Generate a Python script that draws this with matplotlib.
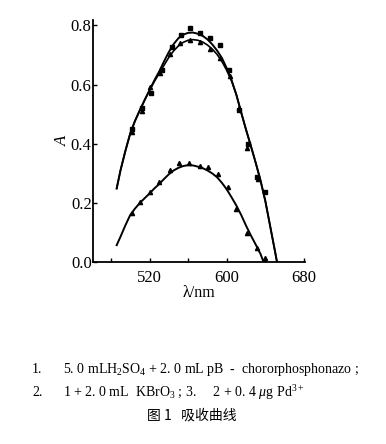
import matplotlib
matplotlib.use("Agg")
import matplotlib.pyplot as plt

plt.rcParams['font.family'] = ['Liberation Serif', 'Noto Sans CJK SC', 'DejaVu Sans']
plt.rcParams['mathtext.fontset'] = 'custom'
plt.rcParams['mathtext.rm'] = 'Liberation Serif'
plt.rcParams['mathtext.it'] = 'Liberation Serif:italic'

# fitted curves (wavelength nm, absorbance)
line_x = [486, 490, 495, 500, 505, 510, 515, 520, 525, 530, 535, 540, 545, 550, 555, 560,
          565, 570, 575, 580, 585, 590, 595, 600, 605, 610, 615, 620, 625, 630, 635, 640,
          645, 650, 652]
line1_y = [0.248, 0.31, 0.375, 0.434, 0.477, 0.513, 0.548, 0.581, 0.614, 0.644, 0.678, 0.710,
           0.737, 0.757, 0.769, 0.775, 0.776, 0.772, 0.765, 0.753, 0.736, 0.715, 0.690, 0.655,
           0.615, 0.565, 0.505, 0.447, 0.392, 0.335, 0.275, 0.205, 0.12, 0.035, 0.0]
line2_y = [0.248, 0.31, 0.375, 0.434, 0.477, 0.513, 0.547, 0.580, 0.610, 0.638, 0.665, 0.692,
           0.714, 0.731, 0.743, 0.750, 0.752, 0.750, 0.744, 0.734, 0.720, 0.702, 0.678, 0.648,
           0.612, 0.565, 0.505, 0.447, 0.392, 0.335, 0.275, 0.205, 0.12, 0.035, 0.0]
line3_x = [486, 490, 495, 500, 505, 510, 515, 520, 525, 530, 535, 540, 545, 550, 555, 560,
           565, 570, 575, 580, 585, 590, 595, 600, 605, 610, 615, 620, 625, 630, 635, 638]
line3_y = [0.056, 0.085, 0.123, 0.158, 0.180, 0.199, 0.215, 0.231, 0.248, 0.263, 0.280, 0.296,
           0.309, 0.318, 0.324, 0.327, 0.326, 0.322, 0.317, 0.309, 0.299, 0.286, 0.267, 0.245,
           0.218, 0.190, 0.158, 0.122, 0.089, 0.058, 0.026, 0.0]

# measured points
pts1_x = [502, 512, 522, 533, 543, 552.5, 562, 572, 583, 593, 602, 613, 622, 631, 640]
pts1_y = [0.451, 0.519, 0.572, 0.649, 0.727, 0.767, 0.790, 0.775, 0.756, 0.733, 0.648, 0.513, 0.400, 0.288, 0.237]
pts2_x = [502, 512, 520, 531, 541, 552, 562, 572, 583, 593, 603, 613, 621, 632]
pts2_y = [0.440, 0.510, 0.590, 0.640, 0.705, 0.740, 0.752, 0.745, 0.720, 0.690, 0.630, 0.520, 0.384, 0.280]
pts3_x = [502, 510, 520, 530, 541, 551, 561, 572, 581, 591, 601, 610, 621, 631, 640]
pts3_y = [0.166, 0.203, 0.237, 0.271, 0.310, 0.335, 0.335, 0.324, 0.321, 0.297, 0.254, 0.180, 0.098, 0.047, 0.011]

x_ticks = [480, 520, 560, 600, 640, 680]
x_labels = ['', '520', '', '600', '', '680']
y_ticks = [0.0, 0.2, 0.4, 0.6, 0.8]

fig = plt.figure(figsize=(3.86, 4.44), dpi=100)
ax = fig.add_axes([0.241, 0.4106, 0.549, 0.544])

ax.plot(line_x, line1_y, color='black', lw=1.4)
ax.plot(line_x, line2_y, color='black', lw=1.2)
ax.plot(line3_x, line3_y, color='black', lw=1.4)
ax.plot(pts1_x, pts1_y, 's', color='black', ms=3)
ax.plot(pts2_x, pts2_y, '^', color='black', ms=3)
ax.plot(pts3_x, pts3_y, '^', color='black', ms=3)

ax.set_xlim(461.5, 681)
ax.set_ylim(0, 0.818)
ax.set_xticks(x_ticks)
ax.set_xticklabels(x_labels)
ax.set_yticks(y_ticks)
ax.set_yticklabels(['%.1f' % v for v in y_ticks])
ax.spines['top'].set_visible(False)
ax.spines['right'].set_visible(False)
ax.spines['left'].set_linewidth(1.3)
ax.spines['bottom'].set_linewidth(1.3)
ax.tick_params(direction='in', length=3, width=1, labelsize=12)
ax.tick_params(axis='x', pad=6)
ax.tick_params(axis='y', pad=1)
ax.set_xlabel('λ/nm', fontsize=11.5, labelpad=-1)
ax.set_ylabel('A', fontsize=12, labelpad=0, family='Liberation Serif', style='italic')

fig.text(0.083, 0.167, '1.', fontsize=10, va='center')
fig.text(0.163, 0.167, r'5. 0 mLH$_2$SO$_4$ + 2. 0 mL pB  -  chororphosphonazo ;', fontsize=10, va='center')
fig.text(0.083, 0.115, '2.', fontsize=10, va='center')
fig.text(0.163, 0.115, r'1 + 2. 0 mL  KBrO$_3$ ; 3.     2 + 0. 4 $\mu$g Pd$^{3+}$', fontsize=10, va='center')
fig.text(0.497, 0.065, '图 1   吸收曲线', fontsize=10, va='center', ha='center',
         family=['Noto Sans CJK SC', 'DejaVu Sans'])

fig.savefig('out.png', dpi=100)
